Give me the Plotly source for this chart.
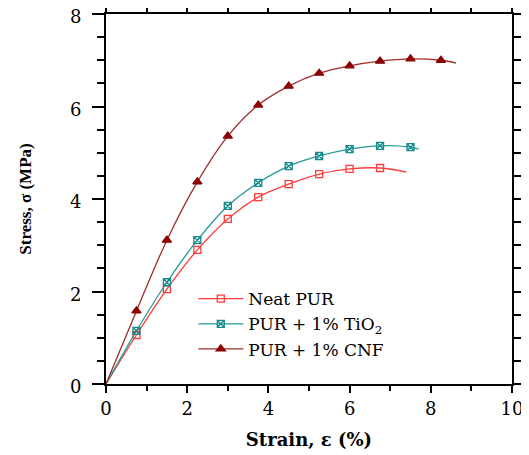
import plotly.graph_objects as go

# Marker points (strain %, stress MPa)
neat_x = [0, 0.75, 1.5, 2.25, 3.0, 3.75, 4.5, 5.25, 6.0, 6.75, 7.4]
neat_y = [0, 1.06, 2.05, 2.90, 3.57, 4.04, 4.32, 4.54, 4.65, 4.67, 4.58]
tio2_x = [0, 0.75, 1.5, 2.25, 3.0, 3.75, 4.5, 5.25, 6.0, 6.75, 7.5, 7.7]
tio2_y = [0, 1.15, 2.20, 3.11, 3.85, 4.35, 4.71, 4.93, 5.08, 5.15, 5.12, 5.08]
cnf_x = [0, 0.75, 1.5, 2.25, 3.0, 3.75, 4.5, 5.25, 6.0, 6.75, 7.5, 8.25, 8.62]
cnf_y = [0, 1.58, 3.11, 4.37, 5.36, 6.03, 6.44, 6.72, 6.88, 6.98, 7.03, 7.00, 6.94]

series = [
    ("Neat PUR", neat_x, neat_y, "#FF3B3B", "#FF3B3B", "square-open", 7),
    ("PUR + 1% TiO<sub>2</sub>", tio2_x, tio2_y, "#23999A", "#178A8A", "square-x-open", 7),
    ("PUR + 1% CNF", cnf_x, cnf_y, "#A02C2C", "#8B0000", "triangle-up", 8),
]

fig = go.Figure()
for name, xs, ys, lc, mc, sym, ms in series:
    fig.add_trace(go.Scatter(x=xs, y=ys, mode="lines", line=dict(color=lc, width=1.3, shape="spline"),
                             showlegend=False, hoverinfo="skip"))
    fig.add_trace(go.Scatter(x=xs[1:-1], y=ys[1:-1], mode="markers", name=name,
                             marker=dict(symbol=sym, size=ms, color=mc, line=dict(color=mc, width=1.3)),
                             showlegend=False))
    fig.add_trace(go.Scatter(x=[None], y=[None], mode="lines+markers", name=name,
                             line=dict(color=lc, width=1.3),
                             marker=dict(symbol=sym, size=ms, color=mc, line=dict(color=mc, width=1.3))))

wide = "DejaVu Serif, serif"
narrow = "Liberation Serif, Times New Roman, serif"

def axis(ticklen, minorlen, standoff, shift=0):
    return dict(
        showline=True, linecolor="black", linewidth=2, mirror="allticks",
        ticks="outside", tickcolor="black", tickwidth=1.5, ticklen=ticklen,
        showgrid=False, zeroline=False, ticklabelstandoff=standoff,
        ticklabelshift=shift, ticklabeloverflow="allow",
        tickfont=dict(family=wide, size=18, color="black"),
        minor=dict(ticks="outside", ticklen=minorlen, tickwidth=1.5, tickcolor="black", showgrid=False),
    )

# page body adds an 8px offset, so the figure is 8px smaller and margins shifted
fig.update_layout(
    width=521, height=447,
    margin=dict(l=98, r=17, t=6, b=71, autoexpand=False),
    paper_bgcolor="white", plot_bgcolor="white",
    font=dict(family=wide, color="black"),
    xaxis=dict(range=[0, 10], tick0=0, dtick=2, minor_dtick=1,
               title=dict(text="<b>Strain, ε (%)</b>", font=dict(family=wide, size=18), standoff=16),
               **axis(7, 5, 0)),
    yaxis=dict(range=[0, 8], tick0=0, dtick=2, minor_dtick=0.5,
               title=dict(text="<b>Stress, σ (MPa)</b>", font=dict(family=narrow, size=17), standoff=34),
               **axis(12, 7, 7, 3)),
    legend=dict(x=0.215, y=0.278, xanchor="left", yanchor="top", bgcolor="rgba(0,0,0,0)",
                font=dict(family=wide, size=17, color="black"), tracegroupgap=0, itemwidth=45),
)

fig.write_html("out.html")
